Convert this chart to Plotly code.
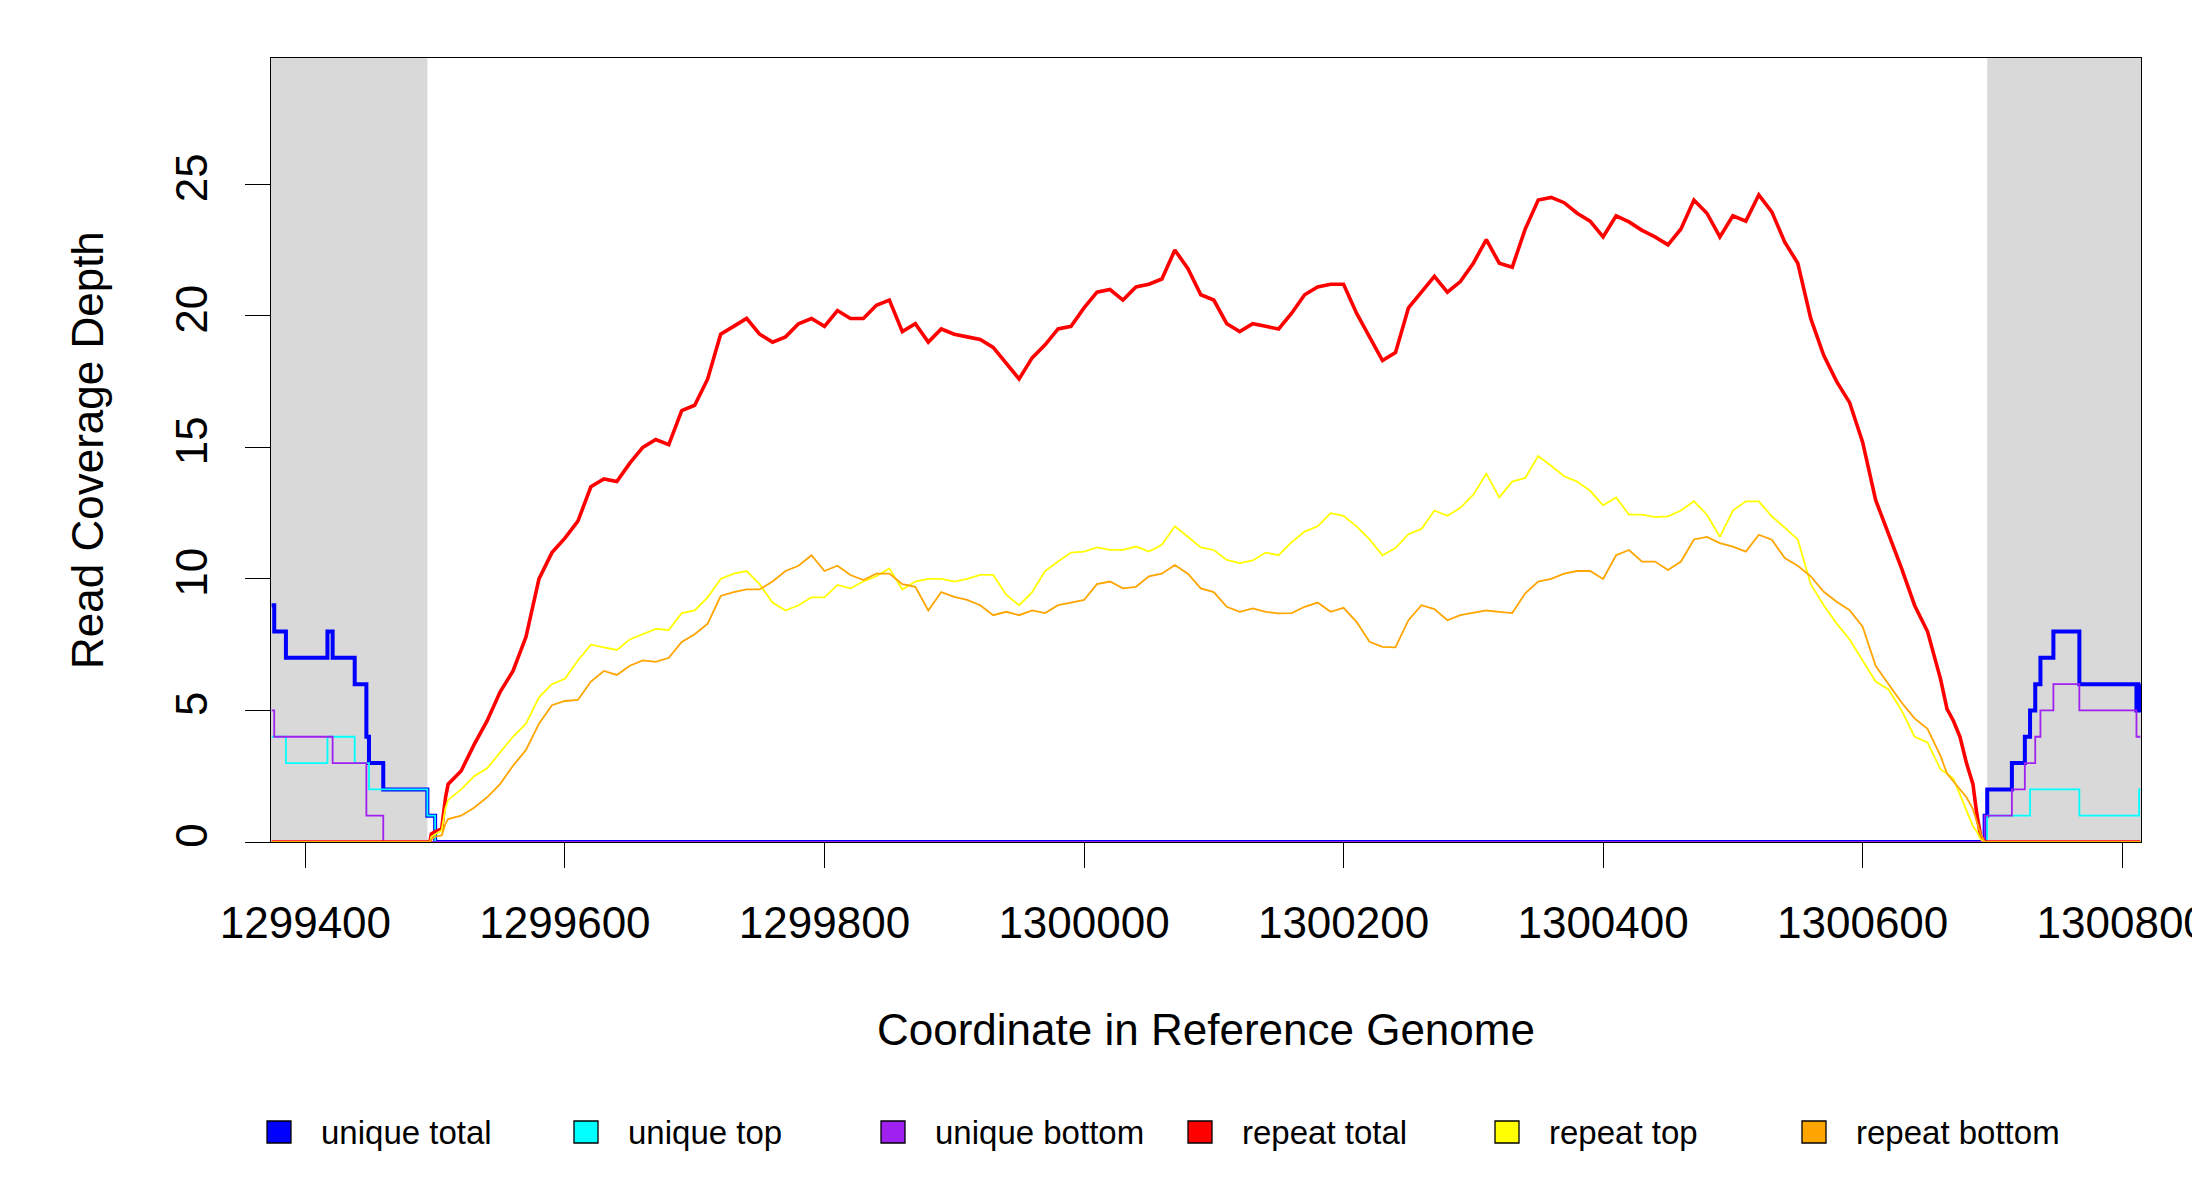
import plotly.graph_objects as go

# unique-read coverage, step changes (start coordinate, depth)
unique_total_pos = [1299374, 1299376, 1299385, 1299417, 1299421, 1299438, 1299447, 1299449, 1299460,
                    1299494, 1299500, 1300694, 1300696, 1300715, 1300725, 1300729, 1300733, 1300737,
                    1300747, 1300767, 1300811, 1300813, 1300814]
unique_total = [9, 8, 7, 8, 7, 6, 4, 3, 2, 1, 0, 1, 2, 3, 4, 5, 6, 7, 8, 6, 5, 6, 6]

unique_top_pos = [1299374, 1299385, 1299417, 1299438, 1299449, 1299494, 1299500, 1300696, 1300729,
                  1300767, 1300813, 1300814]
unique_top = [4, 3, 4, 3, 2, 1, 0, 1, 2, 1, 2, 2]

unique_bottom_pos = [1299374, 1299376, 1299421, 1299447, 1299460, 1300694, 1300715, 1300725, 1300733,
                     1300737, 1300747, 1300767, 1300811, 1300814]
unique_bottom = [5, 4, 3, 1, 0, 1, 2, 3, 4, 5, 6, 5, 4, 4]

# repeat-read coverage, sampled along the contig
repeat_pos = ([1299374, 1299496, 1299497, 1299500, 1299505, 1299508]
              + list(range(1299510, 1300651, 10))
              + [1300660, 1300665, 1300670, 1300675, 1300680, 1300685, 1300688, 1300691, 1300694, 1300814])

repeat_total = [
    0, 0, 0.3, 0.4, 0.5, 1.7,
    2.2, 2.7, 3.7, 4.6, 5.7, 6.5, 7.8, 10.0, 11.0, 11.55,
    12.2, 13.5, 13.8, 13.7, 14.4, 15.0, 15.3, 15.1, 16.4, 16.6,
    17.6, 19.3, 19.6, 19.9, 19.3, 19.0, 19.2, 19.7, 19.9, 19.6,
    20.2, 19.9, 19.9, 20.4, 20.6, 19.4, 19.7, 19.0, 19.5, 19.3,
    19.2, 19.1, 18.8, 18.2, 17.6, 18.4, 18.9, 19.5, 19.6, 20.3,
    20.9, 21.0, 20.6, 21.1, 21.2, 21.4, 22.5, 21.8, 20.8, 20.6,
    19.7, 19.4, 19.7, 19.6, 19.5, 20.1, 20.8, 21.1, 21.2, 21.2,
    20.1, 19.2, 18.3, 18.6, 20.3, 20.9, 21.5, 20.9, 21.3, 22.0,
    22.9, 22.0, 21.85, 23.3, 24.4, 24.5, 24.3, 23.9, 23.6, 23.0,
    23.8, 23.57, 23.25, 23.0, 22.7, 23.3, 24.4, 23.9, 23.0, 23.8,
    23.6, 24.6, 23.95, 22.8, 22.0, 19.9, 18.5, 17.5, 16.7, 15.2,
    13.0, 11.7, 10.4, 9.0, 8.0,
    6.2, 5.06, 4.6, 4.0, 3.0, 2.2, 1.05, 0.22, 0, 0,
]

repeat_top = [
    0, 0, 0.2, 0.3, 0.45, 1.3,
    1.6, 2.0, 2.5, 2.8, 3.4, 4.0, 4.5, 5.5, 6.0, 6.2,
    6.9, 7.5, 7.4, 7.3, 7.7, 7.9, 8.1, 8.06, 8.7, 8.8,
    9.3, 10.0, 10.2, 10.3, 9.8, 9.1, 8.8, 9.0, 9.3, 9.3,
    9.77, 9.64, 9.9, 10.1, 10.4, 9.6, 9.9, 10.0, 10.0, 9.9,
    10.0, 10.15, 10.15, 9.4, 9.0, 9.5, 10.3, 10.66, 11.0, 11.04,
    11.2, 11.1, 11.1, 11.23, 11.04, 11.3, 12.0, 11.6, 11.2, 11.1,
    10.72, 10.6, 10.7, 11.0, 10.9, 11.4, 11.8, 12.0, 12.5, 12.4,
    12.0, 11.5, 10.9, 11.17, 11.7, 11.9, 12.6, 12.4, 12.7, 13.2,
    14.0, 13.1, 13.7, 13.84, 14.67, 14.3, 13.9, 13.7, 13.35, 12.8,
    13.1, 12.44, 12.44, 12.35, 12.38, 12.6, 12.95, 12.44, 11.6, 12.6,
    12.95, 12.95, 12.38, 11.95, 11.5, 9.8, 9.0, 8.3, 7.7, 6.9,
    6.1, 5.8, 5.0, 4.0, 3.78,
    2.76, 2.6, 2.4, 1.81, 1.24, 0.6, 0.4, 0.1, 0, 0,
]

repeat_bottom = [
    0, 0, 0.1, 0.2, 0.25, 0.7,
    0.87, 1.0, 1.3, 1.7, 2.2, 2.9, 3.5, 4.5, 5.2, 5.36,
    5.4, 6.1, 6.5, 6.35, 6.7, 6.9, 6.85, 7.0, 7.6, 7.9,
    8.3, 9.35, 9.5, 9.6, 9.6, 9.9, 10.3, 10.5, 10.9, 10.3,
    10.5, 10.15, 9.96, 10.2, 10.2, 9.8, 9.7, 8.8, 9.5, 9.32,
    9.2, 9.0, 8.62, 8.75, 8.62, 8.8, 8.7, 9.0, 9.1, 9.2,
    9.8, 9.9, 9.64, 9.7, 10.1, 10.2, 10.53, 10.2, 9.64, 9.5,
    8.94, 8.75, 8.88, 8.75, 8.69, 8.7, 8.94, 9.1, 8.75, 8.9,
    8.37, 7.61, 7.42, 7.4, 8.43, 9.0, 8.85, 8.43, 8.62, 8.7,
    8.8, 8.75, 8.7, 9.45, 9.9, 10.0, 10.2, 10.3, 10.3, 10.0,
    10.9, 11.1, 10.66, 10.66, 10.34, 10.66, 11.5, 11.6, 11.36, 11.23,
    11.04, 11.68, 11.49, 10.79, 10.5, 10.1, 9.51, 9.13, 8.81, 8.18,
    6.7, 6.0, 5.3, 4.7, 4.3,
    3.27, 2.6, 2.3, 2.0, 1.7, 1.25, 0.8, 0.3, 0, 0,
]

masked_regions = [(1299373.5, 1299494), (1300696, 1300814.5)]
x_ticks = [1299400, 1299600, 1299800, 1300000, 1300200, 1300400, 1300600, 1300800]
y_ticks = [0, 5, 10, 15, 20, 25]

legend_labels = ["unique total", "unique top", "unique bottom", "repeat total", "repeat top", "repeat bottom"]
legend_colors = ["#0000FF", "#00FFFF", "#A020F0", "#FF0000", "#FFFF00", "#FFA500"]

assert len(repeat_pos) == len(repeat_total) == len(repeat_top) == len(repeat_bottom)

# the page body adds an 8px offset, so everything is laid out 8px up/left
OFF = 8
W, H = 2200, 1200
L, R, T, B = 271 - OFF, 59 + OFF, 58 - OFF, 358 + OFF
PW, PH = W - L - R, H - T - B
FONT = "Liberation Sans, Arial, Helvetica, sans-serif"


def xp(px):
    # px measured on the final screenshot
    return (px - OFF - L) / PW


def yp(py):
    return (H - B - (py - OFF)) / PH


fig = go.Figure()

series = [
    (unique_total_pos, unique_total, legend_colors[0], 4, "hv"),
    (unique_top_pos, unique_top, legend_colors[1], 1.8, "hv"),
    (unique_bottom_pos, unique_bottom, legend_colors[2], 1.8, "hv"),
    (repeat_pos, repeat_total, legend_colors[3], 3.6, "linear"),
    (repeat_pos, repeat_top, legend_colors[4], 1.8, "linear"),
    (repeat_pos, repeat_bottom, legend_colors[5], 1.8, "linear"),
]
for (xs, ys, color, width, shape), name in zip(series, legend_labels):
    fig.add_trace(go.Scatter(
        x=xs, y=ys, mode="lines", name=name, showlegend=False,
        line=dict(color=color, width=width, shape=shape),
    ))

for x0, x1 in masked_regions:
    fig.add_shape(type="rect", xref="x", yref="paper", x0=x0, x1=x1, y0=0, y1=1,
                  fillcolor="#D9D9D9", line_width=0, layer="below")

# legend drawn by hand: bordered squares with labels
for i, (label, color) in enumerate(zip(legend_labels, legend_colors)):
    cx, cy = 279 + 307 * i, 1132
    fig.add_shape(type="rect", xref="paper", yref="paper",
                  x0=xp(cx - 12), x1=xp(cx + 12), y0=yp(cy + 11), y1=yp(cy - 11),
                  fillcolor=color, line=dict(color="black", width=1.3))
    fig.add_annotation(text=label, xref="paper", yref="paper", x=xp(cx + 40), y=yp(cy),
                       xanchor="left", yanchor="middle", showarrow=False,
                       font=dict(size=33, color="black", family=FONT))

fig.add_annotation(text="Coordinate in Reference Genome", xref="paper", yref="paper",
                   x=0.5, y=yp(1029), xanchor="center", yanchor="middle", showarrow=False,
                   font=dict(size=44, color="black", family=FONT))
fig.add_annotation(text="Read Coverage Depth", xref="paper", yref="paper",
                   x=xp(87), y=0.5, xanchor="center", yanchor="middle", showarrow=False,
                   textangle=-90, font=dict(size=44, color="black", family=FONT))

axis_style = dict(showgrid=False, zeroline=False, showline=True, mirror=True,
                  linecolor="black", linewidth=1.3, ticks="outside", ticklen=25,
                  tickwidth=1.3, tickcolor="black", automargin=False,
                  ticklabeloverflow="allow",
                  tickfont=dict(size=44, color="black", family=FONT))

fig.update_xaxes(range=[1299373.5, 1300814.5], tickvals=x_ticks,
                 ticktext=[str(v) for v in x_ticks], ticklabelstandoff=17, **axis_style)
fig.update_yaxes(range=[0, 29.8], tickvals=y_ticks, ticktext=[str(v) for v in y_ticks],
                 tickangle=-90, ticklabelstandoff=20, **axis_style)

fig.update_layout(
    width=W, height=H,
    margin=dict(l=L, r=R, t=T, b=B, pad=0),
    plot_bgcolor="white", paper_bgcolor="white",
    showlegend=False,
    font=dict(family=FONT, color="black"),
)

fig.write_html("out.html")
